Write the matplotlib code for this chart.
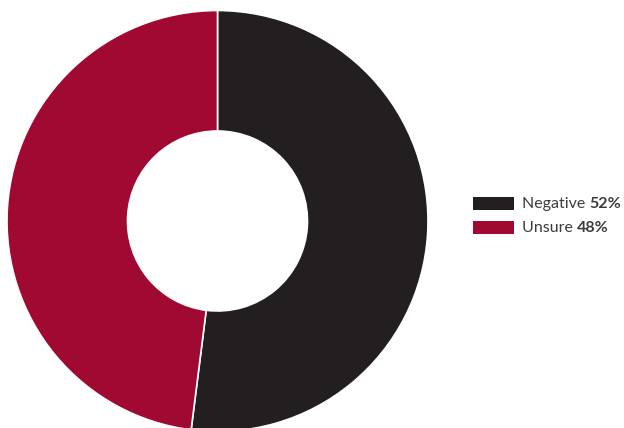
import matplotlib
matplotlib.use("Agg")
import matplotlib.pyplot as plt
from matplotlib.patches import Rectangle

labels = ["Negative", "Unsure"]
shares = [52, 48]
colors = ["#231f20", "#a00932"]

W, H = 624, 428
fig = plt.figure(figsize=(W / 100, H / 100), dpi=100)
ax = fig.add_axes([0, 0, 1, 1])

# donut, drawn clockwise from twelve o'clock
ax.pie(shares, colors=colors, startangle=90, counterclock=False,
       center=(217.5, H - 221), radius=210.5, frame=True,
       wedgeprops=dict(width=210.5 - 90, edgecolor="white", linewidth=1.2))
ax.set_xlim(0, W)
ax.set_ylim(0, H)
ax.set_aspect("equal")
ax.axis("off")

# legend: swatch, label, bold percentage
for i, (lab, val, col) in enumerate(zip(labels, shares, colors)):
    y_top = H - (197 + i * 24)
    ax.add_patch(Rectangle((473, y_top - 13), 41, 13, facecolor=col, edgecolor="none"))
    t = ax.text(522, y_top - 6.5, lab + " ", fontsize=11.5, family="Lato",
                color="#3c3c3c", va="center", ha="left")
    fig.canvas.draw()
    bb = t.get_window_extent()
    x_end = ax.transData.inverted().transform((bb.x1, bb.y0))[0]
    ax.text(x_end, y_top - 6.5, f"{val}%", fontsize=11.5, family="Lato",
            fontweight="bold", color="#3c3c3c", va="center", ha="left")

fig.savefig("out.png", dpi=100, facecolor="white")
